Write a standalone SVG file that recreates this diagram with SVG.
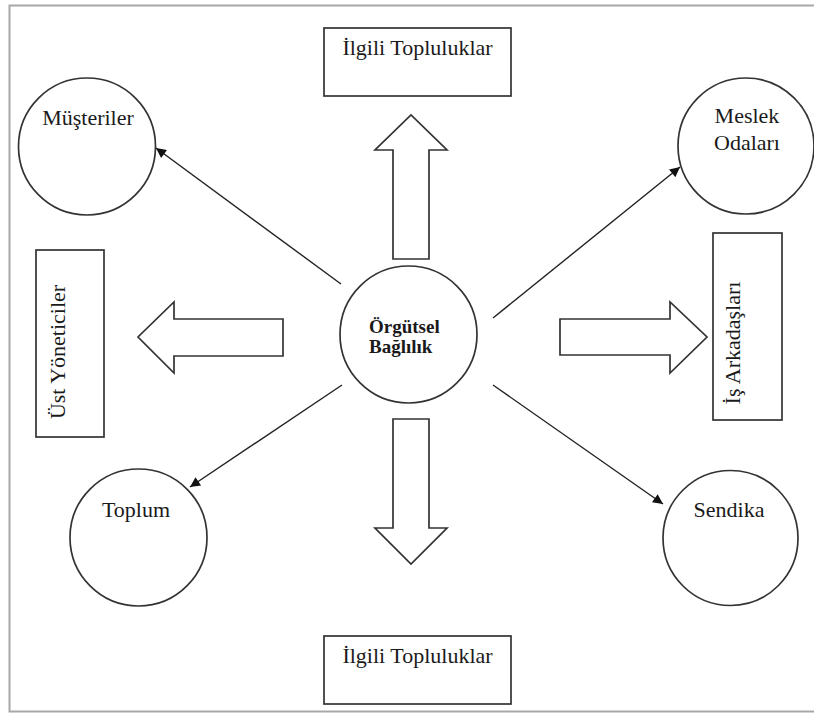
<svg xmlns="http://www.w3.org/2000/svg" width="814" height="715" viewBox="0 0 814 715">
<defs>
<style>
.shape{fill:#fff;stroke:#333;stroke-width:1.7}
.line{fill:none;stroke:#222;stroke-width:1.4}
.t{font-family:"Liberation Serif","Times New Roman",serif;font-size:22px;fill:#1a1a1a}
.tb{font-family:"Liberation Serif","Times New Roman",serif;font-size:19px;font-weight:bold;fill:#1a1a1a}
</style>
<marker id="ah" viewBox="0 0 10 10" refX="10" refY="5" markerWidth="13" markerHeight="10" markerUnits="userSpaceOnUse" orient="auto">
<path d="M0,0 L10,5 L0,10 z" fill="#111"/>
</marker>
</defs>
<rect width="814" height="715" fill="#fff"/>
<rect x="9.5" y="5.5" width="810" height="706" fill="none" stroke="#a8a8a8" stroke-width="2"/>

<g id="connectors">
<line class="line" x1="341" y1="284" x2="156" y2="148" marker-end="url(#ah)"/>
<line class="line" x1="493" y1="318" x2="680" y2="167" marker-end="url(#ah)"/>
<line class="line" x1="342" y1="385" x2="190" y2="487" marker-end="url(#ah)"/>
<line class="line" x1="493" y1="385" x2="663" y2="504" marker-end="url(#ah)"/>
<path class="shape" d="M393,259 L393,150 L375,150 L411,115 L447,150 L429,150 L429,259 Z"/>
<path class="shape" d="M393,419 L393,528 L375,528 L411,564 L447,528 L429,528 L429,419 Z"/>
<path class="shape" d="M283,319 L174,319 L174,302 L138,337 L174,373 L174,356 L283,356 Z"/>
<path class="shape" d="M560,319 L670,319 L670,302 L707,337 L670,373 L670,355 L560,355 Z"/>
</g>

<g id="center">
<circle class="shape" cx="408.5" cy="334.5" r="68.5"/>
<text class="tb" x="369" y="333">Örgütsel</text>
<text class="tb" x="369" y="353">Bağlılık</text>
</g>

<g id="top-box">
<rect class="shape" x="324" y="28" width="187" height="68"/>
<text class="t" x="417.5" y="55" text-anchor="middle">İlgili Topluluklar</text>
</g>

<g id="bottom-box">
<rect class="shape" x="324" y="636" width="187" height="68"/>
<text class="t" x="417.5" y="663" text-anchor="middle">İlgili Topluluklar</text>
</g>

<g id="musteriler">
<circle class="shape" cx="87" cy="146.5" r="68.5"/>
<text class="t" x="88" y="125" text-anchor="middle">Müşteriler</text>
</g>

<g id="meslek">
<circle class="shape" cx="746" cy="146" r="68"/>
<text class="t" x="747" y="123" text-anchor="middle">Meslek</text>
<text class="t" x="747" y="150" text-anchor="middle">Odaları</text>
</g>

<g id="ust-yoneticiler">
<rect class="shape" x="36" y="250" width="68" height="187"/>
<text class="t" transform="translate(65,352) rotate(-90)" text-anchor="middle">Üst Yöneticiler</text>
</g>

<g id="is-arkadaslari">
<rect class="shape" x="713" y="233" width="69" height="187"/>
<text class="t" transform="translate(740,343) rotate(-90)" text-anchor="middle">İş Arkadaşları</text>
</g>

<g id="toplum">
<circle class="shape" cx="138.5" cy="537.5" r="68.5"/>
<text class="t" x="136" y="517" text-anchor="middle">Toplum</text>
</g>

<g id="sendika">
<circle class="shape" cx="730.5" cy="538" r="67.5"/>
<text class="t" x="729" y="517" text-anchor="middle">Sendika</text>
</g>
</svg>
